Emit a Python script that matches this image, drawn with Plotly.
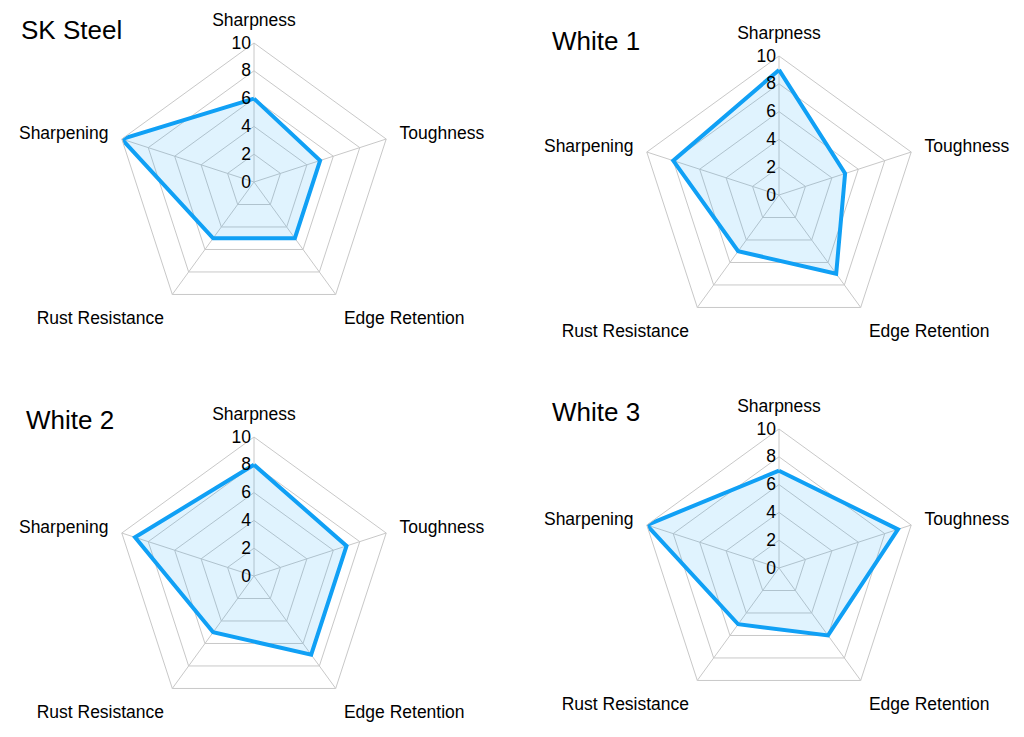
import plotly.graph_objects as go

categories = ["Sharpness", "Toughness", "Edge Retention", "Rust Resistance", "Sharpening"]
steel_names = ["SK Steel", "White 1", "White 2", "White 3"]
sk_steel = [6, 5, 5, 5, 10]
white_1 = [9, 5, 7, 5, 8]
white_2 = [8, 7, 7, 5, 9]
white_3 = [7, 9, 6, 5, 10]
radial_ticks = [0, 2, 4, 6, 8, 10]

series = [sk_steel, white_1, white_2, white_3]

OFF = 8  # page body margin
W, H = 1024 - 2 * OFF, 737 - 2 * OFF
# pixel centers (page coords) and radius for each radar
centers = [(254, 182), (779, 195), (254, 576), (779, 568)]
R = 139
title_pos = [(19, 30), (550, 41), (24, 420), (550, 412)]

LINE = "#10a0f5"
FILL = "rgba(16,160,245,0.13)"
FONT = "Liberation Sans, Arial, sans-serif"

fig = go.Figure()
layout = dict(width=W, height=H, margin=dict(l=0, r=0, t=0, b=0),
              paper_bgcolor="white", showlegend=False,
              font=dict(family=FONT, color="black", size=17.5))

for i, (vals, name) in enumerate(zip(series, steel_names)):
    key = "polar" if i == 0 else f"polar{i+1}"
    fig.add_trace(go.Scatterpolar(
        r=vals + [vals[0]], theta=categories + [categories[0]],
        mode="lines", fill="toself", fillcolor=FILL,
        line=dict(color=LINE, width=4), name=name,
        subplot=key, hoverinfo="r+theta"))
    cx, cy = centers[i][0] - OFF, centers[i][1] - OFF
    layout[key] = dict(
        domain=dict(x=[(cx - R) / W, (cx + R) / W],
                    y=[1 - (cy + R) / H, 1 - (cy - R) / H]),
        gridshape="linear",
        bgcolor="white",
        angularaxis=dict(rotation=90, direction="clockwise",
                         categoryorder="array", categoryarray=categories,
                         showline=True, linecolor="#c8c8c8", linewidth=1,
                         gridcolor="#c8c8c8", gridwidth=1,
                         ticks="outside", ticklen=10, tickcolor="rgba(0,0,0,0)",
                         tickfont=dict(size=17.5, color="black", family=FONT)),
        radialaxis=dict(range=[0, 10], tickvals=radial_ticks, ticktext=[str(t) for t in radial_ticks],
                        angle=90, showline=False, ticks="",
                        gridcolor="#c8c8c8", gridwidth=1,
                        tickfont=dict(size=17.5, color="black", family=FONT),
                        side="counterclockwise", tickangle=90),
    )

annotations = []
for (tx, ty), name in zip(title_pos, steel_names):
    annotations.append(dict(text=name, x=(tx - OFF) / W, y=1 - (ty - OFF) / H,
                            xref="paper", yref="paper",
                            xanchor="left", yanchor="middle", showarrow=False,
                            font=dict(size=26, color="black", family=FONT)))
layout["annotations"] = annotations
fig.update_layout(**layout)
fig.write_html("out.html")
